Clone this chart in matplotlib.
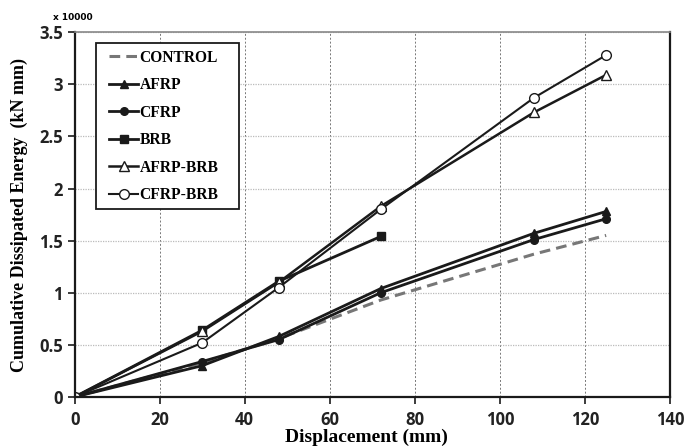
import matplotlib
matplotlib.use("Agg")
import matplotlib.pyplot as plt
from matplotlib.patches import Rectangle

disp = [0, 30, 48, 72, 108, 125]
disp_brb = [0, 30, 48, 72]
control = [0, 0.33, 0.56, 0.93, 1.37, 1.55]
afrp = [0, 0.30, 0.58, 1.04, 1.57, 1.78]
cfrp = [0, 0.34, 0.55, 1.00, 1.51, 1.71]
brb = [0, 0.64, 1.11, 1.54]
afrp_brb = [0, 0.63, 1.10, 1.83, 2.73, 3.09]
cfrp_brb = [0, 0.52, 1.05, 1.80, 2.87, 3.28]

xticks = [0, 20, 40, 60, 80, 100, 120, 140]
yticks = [0, 0.5, 1, 1.5, 2, 2.5, 3, 3.5]
ytick_labels = ["0", "0.5", "1", "1.5", "2", "2.5", "3", "3.5"]

fig = plt.figure(figsize=(6.85, 4.47), dpi=100)
ax = fig.add_axes([0.109, 0.112, 0.869, 0.816])

ax.plot(disp, control, color="#777777", lw=2.2, ls=(0, (3.5, 2)), label="CONTROL")
ax.plot(disp, afrp, color="#1a1a1a", lw=2, marker="^", ms=6, label="AFRP")
ax.plot(disp, cfrp, color="#1a1a1a", lw=2, marker="o", ms=5.5, label="CFRP")
ax.plot(disp_brb, brb, color="#1a1a1a", lw=2, marker="s", ms=5.5, label="BRB")
ax.plot(disp, afrp_brb, color="#1a1a1a", lw=1.8, marker="^", ms=7, mfc="white", mew=1, label="AFRP-BRB")
ax.plot(disp, cfrp_brb, color="#1a1a1a", lw=1.5, marker="o", ms=7, mfc="white", mew=1, label="CFRP-BRB")

ax.set_xlim(0, 140)
ax.set_ylim(0, 3.5)
ax.set_xticks(xticks)
ax.set_yticks(yticks)
ax.set_yticklabels(ytick_labels)

ax.xaxis.grid(True, color="#777777", ls=(0, (2, 2)), lw=0.7)
ax.yaxis.grid(True, color="#bbbbbb", ls=(0, (1, 1)), lw=0.9)
ax.set_axisbelow(True)

for s in ["left", "bottom", "right"]:
    ax.spines[s].set_color("#1a1a1a")
    ax.spines[s].set_linewidth(1.6)
ax.spines["top"].set_color("#888888")
ax.spines["top"].set_linewidth(1.2)

ax.tick_params(axis="both", direction="out", length=5, width=1.2, labelsize=12, color="#1a1a1a")
ax.tick_params(axis="x", pad=5)
for lab in ax.get_xticklabels() + ax.get_yticklabels():
    lab.set_fontfamily("Open Sans")
    lab.set_fontweight("bold")
    lab.set_color("#222222")

ax.set_xlabel("Displacement (mm)", fontfamily="Liberation Serif", fontweight="bold", fontsize=14)
ax.set_ylabel("Cumulative Dissipated Energy  (kN mm)", fontfamily="Liberation Serif", fontweight="bold", fontsize=13, labelpad=8)
ax.xaxis.set_label_coords(0.49, -0.086)

fig.text(0.078, 0.955, "x 10000", fontfamily="DejaVu Sans", fontsize=6.5, fontweight="bold")

# legend frame
ax.add_patch(Rectangle((0.0353, 0.515), 0.2403, 0.455, transform=ax.transAxes, facecolor="white",
                       edgecolor="#1a1a1a", lw=1.3, zorder=4))
leg = ax.legend(loc="upper left", bbox_to_anchor=(0.058, 0.952), borderaxespad=0, frameon=False,
                handlelength=1.85, handletextpad=0.1, labelspacing=0.74,
                borderpad=0, prop={"family": "Liberation Serif", "weight": "bold", "size": 11.2})
leg.set_zorder(5)

fig.savefig("out.png", dpi=100)
